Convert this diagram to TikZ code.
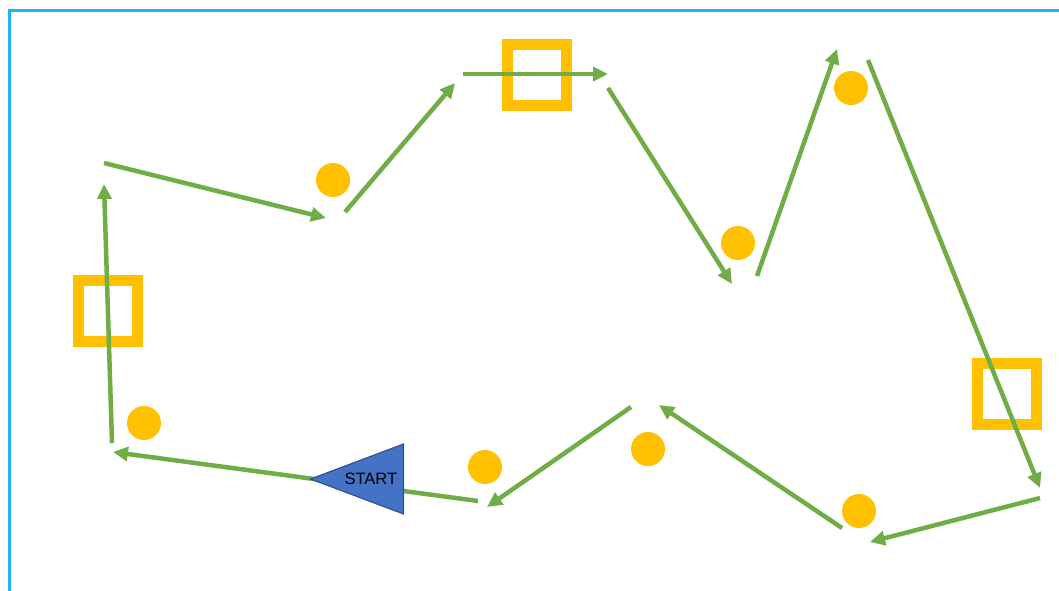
\documentclass[tikz,border=0pt]{standalone}
\usepackage{fontspec}
\setsansfont{Liberation Sans}
\usetikzlibrary{shapes,arrows.meta,positioning}
\definecolor{leaf}{RGB}{112,173,71}
\definecolor{gold}{RGB}{255,192,0}
\definecolor{steel}{RGB}{68,114,196}
\definecolor{steeldark}{RGB}{47,82,143}
\definecolor{sky}{RGB}{30,180,240}

\begin{document}
\begin{tikzpicture}[x=1pt,y=-1pt,
  box/.style={draw=gold,line width=11pt,minimum width=59pt,minimum height=61pt,inner sep=0pt},
  coin/.style={circle,fill=gold,minimum size=34pt,inner sep=0pt},
  move/.style={draw=leaf,line width=4.5pt,-{Triangle[length=15pt,width=14pt]}},
  startmark/.style={isosceles triangle,isosceles triangle stretches,shape border rotate=180,
    minimum width=70pt,minimum height=93pt,fill=steel,draw=steeldark,line width=1.2pt,
    inner sep=0pt,font=\sffamily\fontsize{16.5}{16.5}\selectfont}]
\useasboundingbox (0,0) rectangle (1059,590);
\draw[sky,line width=3pt] (9,600) |- (1070,10);

% checkpoints
\node[box] (b1) at (107.5,310.5) {};
\node[box] (b2) at (536.5,75) {};
\node[box] (b3) at (1006.5,393.5) {};

% ends of the legs
\coordinate (s1) at (478,501);
\coordinate (e1) at (113,452);
\coordinate (s2) at (112,443);
\coordinate (e2) at (104,184);
\coordinate (s3) at (104,163);
\coordinate (e3) at (326,218);
\coordinate (s4) at (345,212);
\coordinate (e4) at (455,83);
\coordinate (s5) at (463,74);
\coordinate (e5) at (608,74);
\coordinate (s6) at (608,88);
\coordinate (e6) at (732,284);
\coordinate (s7) at (757,276);
\coordinate (e7) at (837,49);
\coordinate (s8) at (868,60);
\coordinate (e8) at (1040,488);
\coordinate (s9) at (1040,498);
\coordinate (e9) at (870,542);
\coordinate (s10) at (842,528);
\coordinate (e10) at (659,405);
\coordinate (s11) at (631,407);
\coordinate (e11) at (487,507);

\draw[move] (s1) -- (e1);
\draw[move] (s2) -- (e2);
\draw[move] (s3) -- (e3);
\draw[move] (s4) -- (e4);
\draw[move] (s5) -- (e5);
\draw[move] (s6) -- (e6);
\draw[move] (s7) -- (e7);
\draw[move] (s8) -- (e8);
\draw[move] (s9) -- (e9);
\draw[move] (s10) -- (e10);
\draw[move] (s11) -- (e11);

\node[startmark,anchor=apex] (start) at (309,479) {START};

% coins
\node[coin] (c1) at (144,423) {};
\node[coin] (c2) at (333,180) {};
\node[coin] (c3) at (738,243) {};
\node[coin] (c4) at (851,88) {};
\node[coin] (c5) at (859,511) {};
\node[coin] (c6) at (648,449) {};
\node[coin] (c7) at (485,467) {};
\end{tikzpicture}
\end{document}
